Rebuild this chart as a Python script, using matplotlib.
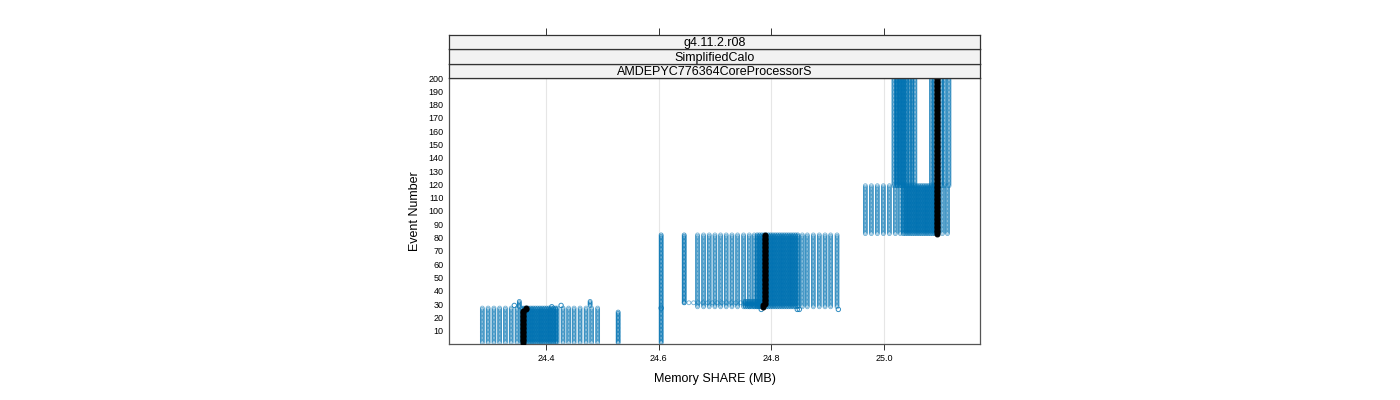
import numpy as np
import matplotlib
matplotlib.use("Agg")
import matplotlib.pyplot as plt

plt.rcParams['font.family'] = ['Liberation Sans', 'DejaVu Sans']

# --- data (Memory SHARE in MB, event ranges) ---
# cluster 1, events 1-27
c1_light = [24.2868, 24.2971, 24.3074, 24.3175, 24.3278, 24.3381, 24.3484,
            24.4196, 24.4302, 24.4400, 24.4498, 24.4604, 24.4711, 24.4809, 24.4916]
c1_dark = [24.357, 24.361, 24.365, 24.369, 24.373, 24.377, 24.381, 24.385,
           24.389, 24.393, 24.397, 24.401, 24.405, 24.409, 24.413, 24.417]
c1_events = (1, 27)

# single columns
col_x = [24.528, 24.6044, 24.6453, 24.3525, 24.4782]
col_events = [(1, 24), (1, 82), (31, 82), (28, 32), (29, 32)]

# loose points (x, event)
loose_x = [24.3436, 24.4101, 24.4267, 24.6044, 24.7822, 24.8462, 24.8498, 24.9191]
loose_ev = [29, 28, 29, 27, 26, 26, 26, 26]

# cluster 2, events 28-82
c2_light = [24.6690, 24.6797, 24.6898, 24.6999, 24.7099, 24.7200, 24.7301,
            24.7401, 24.7508, 24.7609, 24.7698,
            24.8551, 24.8640, 24.8747, 24.8853, 24.8955, 24.9054, 24.9168]
c2_dark = [24.775, 24.779, 24.783, 24.787, 24.791, 24.795, 24.799, 24.803,
           24.807, 24.811, 24.815, 24.819, 24.823, 24.827, 24.831, 24.835,
           24.839, 24.843, 24.847]
c2_events = (28, 82)
c2_row_x = [24.6453, 24.6537, 24.6620, 24.6704, 24.6787, 24.6871, 24.6955,
            24.7038, 24.7122, 24.7205, 24.7289, 24.7372, 24.7456, 24.7538]
c2_row_ev = 31
c2_patch = [24.7538, 24.7578, 24.7618, 24.7658, 24.7698, 24.7738, 24.7778, 24.7818]
c2_patch_events = (28, 32)

# cluster 3 lower, events 83-119
c3_light = [24.9671, 24.9778, 24.9884, 24.9991, 25.0098, 25.0204, 25.0293,
            25.1040, 25.1129]
c3_dark = [25.0347, 25.0387, 25.0427, 25.0467, 25.0507, 25.0547, 25.0587,
           25.0627, 25.0667, 25.0707, 25.0747, 25.0787, 25.0827, 25.0867,
           25.0907, 25.0947]
c3_events = (83, 119)

# cluster 3 upper, events 119-200
c4_light = [25.0178, 25.0222, 25.0462, 25.0498, 25.0551,
            25.0844, 25.0889, 25.1022, 25.1076, 25.1156]
c4_dark = [25.024, 25.028, 25.032, 25.036, 25.040]
c4_events = (119, 200)

# highlighted run (black)
black_x = [24.359, 24.3644, 24.7858, 24.7893, 25.0951]
black_events = [(1, 25), (26, 27), (28, 29), (30, 82), (83, 200)]

xticks = [24.4, 24.6, 24.8, 25.0]
yticks = list(range(10, 201, 10))
strips = ["g4.11.2.r08", "SimplifiedCalo", "AMDEPYC776364CoreProcessorS"]

blue = '#0072B2'

W, H = 1400, 400
fig = plt.figure(figsize=(14, 4), dpi=100)
ax = fig.add_axes([449 / W, 56 / H, 531 / W, 266 / H])
xlim = (24.2276, 25.1707)
ax.set_xlim(*xlim)
ax.set_ylim(0, 200)


def expand(xs, ev):
    px, py = [], []
    for x in xs:
        for e in range(ev[0], ev[1] + 1):
            px.append(x)
            py.append(e)
    return px, py


light_groups = [(c1_light, c1_events), (c2_light, c2_events),
                (c3_light, c3_events), (c4_light, c4_events)]
dark_groups = [(c1_dark, c1_events), (c2_dark, c2_events),
               (c2_patch, c2_patch_events), (c3_dark, c3_events),
               (c4_dark, c4_events)]
for x, e in zip(col_x, col_events):
    dark_groups.append(([x], e))

for xs, ev in light_groups:
    px, py = expand(xs, ev)
    ax.scatter(px, py, s=8, facecolors='none', edgecolors=blue,
               linewidths=0.6, alpha=0.55, zorder=2)
for xs, ev in dark_groups:
    px, py = expand(xs, ev)
    ax.scatter(px, py, s=8, facecolors='none', edgecolors=blue,
               linewidths=0.6, alpha=0.75, zorder=2)

ax.scatter(c2_row_x, [c2_row_ev] * len(c2_row_x), s=8, facecolors='none',
           edgecolors=blue, linewidths=0.6, alpha=0.55, zorder=2)
ax.scatter(loose_x, loose_ev, s=10, facecolors='none', edgecolors=blue,
           linewidths=0.7, alpha=0.8, zorder=2)

for x, e in zip(black_x, black_events):
    px, py = expand([x], e)
    ax.scatter(px, py, s=12, c='black', edgecolors='black', linewidths=0.8, zorder=3)

# axes styling
for xt in xticks:
    ax.axvline(xt, color='#e6e6e6', lw=0.8, zorder=0)
ax.set_xticks(xticks)
ax.set_xticklabels([f"{t:.1f}" for t in xticks])
ax.set_yticks(yticks)
ax.tick_params(axis='x', direction='out', length=4.5, width=0.7, labelsize=6.5,
               pad=3, colors='#333333', labelcolor='black')
ax.tick_params(axis='y', length=0, labelsize=6.5, pad=4)
for sp in ax.spines.values():
    sp.set_color('#555555')
    sp.set_linewidth(0.9)
ax.set_xlabel("Memory SHARE (MB)", fontsize=9, labelpad=7)
ax.set_ylabel("Event Number", fontsize=9, labelpad=5)

# strips
strip_h = 14.4
for i, label in enumerate(reversed(strips)):
    bottom = H - 78 + i * strip_h
    sax = fig.add_axes([449 / W, bottom / H, 531 / W, strip_h / H])
    sax.set_facecolor('#f2f2f2')
    sax.set_xlim(*xlim)
    sax.set_ylim(0, 1)
    sax.set_yticks([])
    sax.text(0.5, 0.42, label, transform=sax.transAxes, ha='center', va='center',
             fontsize=9)
    for sp in sax.spines.values():
        sp.set_color('#333333')
        sp.set_linewidth(0.9)
    if i == len(strips) - 1:
        sax.set_xticks(xticks)
        sax.tick_params(axis='x', bottom=False, labelbottom=False, top=True,
                        labeltop=False, direction='out', length=5, width=0.7,
                        colors='#333333')
    else:
        sax.set_xticks([])

fig.savefig("out.png", dpi=100)
